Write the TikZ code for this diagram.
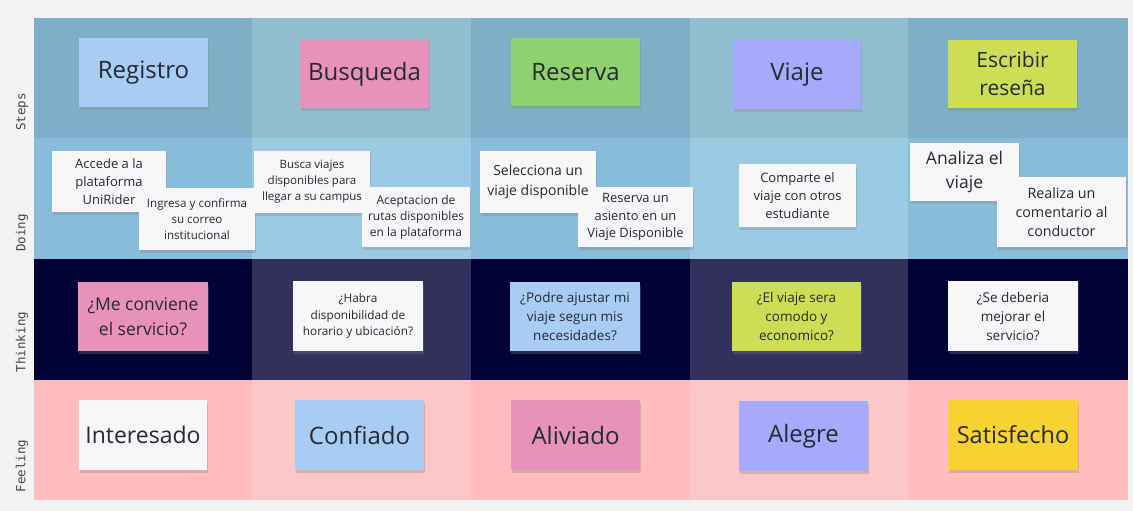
\documentclass[tikz,border=0pt]{standalone}
\usepackage{fontspec}
\setmainfont{Open Sans}
\newfontfamily\lanefont{DejaVu Sans Mono}
\usetikzlibrary{shadows}

\definecolor{pagebg}{HTML}{F3F3F3}
\definecolor{stepsdark}{HTML}{7DB0C6}
\definecolor{stepslight}{HTML}{93BED1}
\definecolor{doingdark}{HTML}{87BDDB}
\definecolor{doinglight}{HTML}{9DCAE3}
\definecolor{thinkdark}{HTML}{020236}
\definecolor{thinklight}{HTML}{33305E}
\definecolor{feeldark}{HTML}{FFBDBD}
\definecolor{feellight}{HTML}{FDC7C7}
\definecolor{noteblue}{HTML}{A7CDF5}
\definecolor{notepink}{HTML}{E891BB}
\definecolor{notegreen}{HTML}{8FD16F}
\definecolor{notelilac}{HTML}{A6AAFF}
\definecolor{notelime}{HTML}{CCDE55}
\definecolor{noteyellow}{HTML}{F6D233}
\definecolor{notewhite}{HTML}{F7F7F9}
\definecolor{notetext}{HTML}{262A32}
\definecolor{lanetext}{HTML}{444444}

\begin{document}
\begin{tikzpicture}[
		x=1pt, y=-1pt,
		note/.style={fill=#1, align=center, inner sep=0pt, text=notetext,
			drop shadow={shadow xshift=1pt, shadow yshift=-3pt, opacity=0.3}},
		dims/.style 2 args={minimum width=#1pt, minimum height=#2pt},
		fsize/.style 2 args={font=\fontsize{#1}{#2}\selectfont},
		lanelabel/.style={rotate=90, text=lanetext, font=\lanefont\fontsize{12.5}{15}\selectfont}
	]

	% Lanes
	\useasboundingbox[fill=pagebg] (0,0) rectangle (1133,511);
	\fill[stepsdark] (34,18) rectangle (1128,138);
	\fill[stepslight] (252,18) rectangle (471,138);
	\fill[stepslight] (690,18) rectangle (908,138);
	\fill[doingdark] (34,138) rectangle (1128,259);
	\fill[doinglight] (252,138) rectangle (471,259);
	\fill[doinglight] (690,138) rectangle (908,259);
	\fill[thinkdark] (34,259) rectangle (1128,380);
	\fill[thinklight] (252,259) rectangle (471,380);
	\fill[thinklight] (690,259) rectangle (908,380);
	\fill[feeldark] (34,380) rectangle (1128,500);
	\fill[feellight] (252,380) rectangle (471,500);
	\fill[feellight] (690,380) rectangle (908,500);

	\node[lanelabel] (steps) at (22,112) {Steps};
	\node[lanelabel] (doing) at (22,233) {Doing};
	\node[lanelabel] (thinking) at (22,342) {Thinking};
	\node[lanelabel] (feeling) at (22,466) {Feeling};

	% Steps
	\node[note=noteblue, dims={129}{69}, fsize={24}{28}] (registro) at (143.5,72.5) {Registro};
	\node[note=notepink, dims={129}{68}, fsize={24}{28}] (busqueda) at (364.5,74) {Busqueda};
	\node[note=notegreen, dims={129}{68}, fsize={24}{28}] (reserva) at (575.5,72) {Reserva};
	\node[note=notelilac, dims={128}{69}, fsize={24}{28}] (viaje) at (797,74.5) {Viaje};
	\node[note=notelime, dims={129}{68}, fsize={21}{28}] (resena) at (1012.5,74) {Escribir\\reseña};

	% Doing
	\node[note=notewhite, dims={114}{61}, fsize={13}{18}] (accede) at (109,181.5) {Accede a la\\plataforma\\UniRider};
	\node[note=notewhite, dims={116}{62}, fsize={11.6}{16}] (ingresa) at (197,219) {Ingresa y confirma\\su correo\\institucional};
	\node[note=notewhite, dims={116}{62}, fsize={11.5}{16}] (busca) at (312,182) {Busca viajes\\disponibles para\\llegar a su campus};
	\node[note=notewhite, dims={108}{60}, fsize={12}{16}] (aceptacion) at (416,217) {Aceptacion de\\rutas disponibles\\en la plataforma};
	\node[note=notewhite, dims={116}{62}] (selecciona) at (538,182) {};
	\node[note=notewhite, dims={115}{60}, fsize={12.9}{17.5}] (asiento) at (635.5,217) {Reserva un\\asiento en un\\Viaje Disponible};
	\node[align=center, text=notetext, fsize={14}{20}] (seleccionatxt) at (selecciona.center) {Selecciona un\\viaje disponible};
	\node[note=notewhite, dims={117}{63}, fsize={13}{18}] (comparte) at (797.5,195.5) {Comparte el\\viaje con otros\\estudiante};
	\node[note=notewhite, dims={109}{58}, fsize={17.5}{24}] (analiza) at (964.5,172) {Analiza el\\viaje};
	\node[note=notewhite, dims={129}{70}, fsize={14.3}{19}] (realiza) at (1061.5,212) {Realiza un\\comentario al\\conductor};

	% Thinking
	\node[note=notepink, dims={130}{69}, fsize={17.5}{25}] (conviene) at (143,316.5) {¿Me conviene\\el servicio?};
	\node[note=notewhite, dims={130}{70}, fsize={11.8}{16.7}] (habra) at (358,316) {¿Habra\\disponibilidad de\\horario y ubicación?};
	\node[note=noteblue, dims={130}{69}, fsize={13.5}{19}] (ajustar) at (575,316.5) {¿Podre ajustar mi\\viaje segun mis\\necesidades?};
	\node[note=notelime, dims={129}{69}, fsize={13.5}{19}] (comodo) at (796.5,316.5) {¿El viaje sera\\comodo y\\economico?};
	\node[note=notewhite, dims={130}{70}, fsize={13.5}{19}] (mejorar) at (1013,316) {¿Se deberia\\mejorar el\\servicio?};

	% Feeling
	\node[note=notewhite, dims={128}{70}, fsize={23}{28}] (interesado) at (143,435) {Interesado};
	\node[note=noteblue, dims={129}{70}, fsize={24}{28}] (confiado) at (359.5,435) {Confiado};
	\node[note=notepink, dims={129}{70}, fsize={24}{28}] (aliviado) at (575.5,435) {Aliviado};
	\node[note=notelilac, dims={129}{70}, fsize={24}{28}] (alegre) at (803.5,436) {Alegre};
	\node[note=noteyellow, dims={130}{70}, fsize={23.5}{28}] (satisfecho) at (1013,435) {Satisfecho};

\end{tikzpicture}
\end{document}
